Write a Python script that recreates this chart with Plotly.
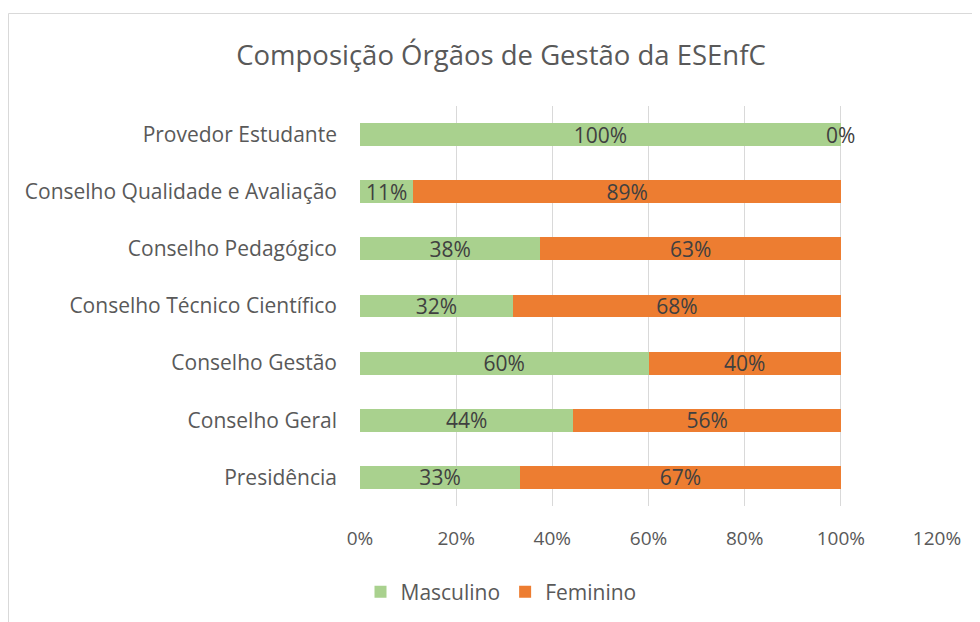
import plotly.graph_objects as go

categories = ["Presidência", "Conselho Geral", "Conselho Gestão",
              "Conselho Técnico Científico", "Conselho Pedagógico",
              "Conselho Qualidade e Avaliação", "Provedor Estudante"]
masculino = [0.333, 0.444, 0.600, 0.318, 0.375, 0.111, 1.000]
feminino = [0.667, 0.556, 0.400, 0.682, 0.625, 0.889, 0.000]
x_ticks = [0, 0.2, 0.4, 0.6, 0.8, 1.0, 1.2]
x_tick_labels = ["0%", "20%", "40%", "60%", "80%", "100%", "120%"]

FONT = "Open Sans"
label_font = dict(family=FONT, size=21, color="#404040")

# page is offset by 8px body margin; layout in figure coordinates
L, R, T, B = 352, 929, 98, 498
W, H = 980, 622
pw, ph = R - L, B - T

fig = go.Figure()
fig.add_trace(go.Bar(
    y=categories, x=masculino, name="Masculino", orientation="h",
    marker=dict(color="#A9D18E", line=dict(width=0)),
    texttemplate="%{x:.0%}", textposition="inside", insidetextanchor="middle",
    textfont=label_font, constraintext="none",
))
fig.add_trace(go.Bar(
    y=categories, x=feminino, name="Feminino", orientation="h",
    marker=dict(color="#ED7D31", line=dict(width=0)),
    texttemplate="%{x:.0%}", textposition="inside",
    insidetextanchor="middle", textfont=label_font, constraintext="none",
))

# labels for zero-width segments, centred on the segment end (as Excel does)
annotations = []
for cat, m, f in zip(categories, masculino, feminino):
    if f == 0:
        annotations.append(dict(x=m + f, y=cat, xref="x", yref="y", text=f"{f:.0%}",
                                showarrow=False, xanchor="center", yanchor="middle",
                                font=label_font))

fig.update_layout(
    barmode="stack", bargap=0.6,
    width=W, height=H,
    margin=dict(l=L, r=W - R, t=T, b=H - B, pad=0),
    paper_bgcolor="white", plot_bgcolor="white",
    font=dict(family=FONT, color="#595959", size=18),
    title=dict(text="Composição Órgãos de Gestão da ESEnfC", x=493/W, xanchor="center",
               y=1 - 47/H, yanchor="middle", xref="container",
               font=dict(family=FONT, size=27.5, color="#595959")),
    xaxis=dict(range=[0, 1.2], tickvals=x_ticks, ticktext=x_tick_labels,
               showgrid=True, gridcolor="#D9D9D9", gridwidth=1, zeroline=False,
               showline=False, ticks="", ticklabelstandoff=19,
               tickfont=dict(family=FONT, size=19, color="#595959")),
    yaxis=dict(categoryorder="array", categoryarray=categories, showgrid=False,
               ticks="", ticklabelstandoff=22, showline=False,
               tickfont=dict(family=FONT, size=21, color="#595959")),
    legend=dict(orientation="h", x=(493 - L) / pw, xanchor="center",
                y=(B - 584) / ph, yanchor="middle",
                font=dict(family=FONT, size=21, color="#595959"),
                itemwidth=30, traceorder="normal"),
    showlegend=True,
    annotations=annotations,
    shapes=[dict(type="rect", xref="paper", yref="paper",
                 x0=(0.5 - L) / pw, x1=(990 - L) / pw, y0=(B - 640) / ph, y1=(B - 5.5) / ph,
                 line=dict(color="#D9D9D9", width=1), fillcolor="rgba(0,0,0,0)", layer="below")],
)

fig.write_html("out.html")
